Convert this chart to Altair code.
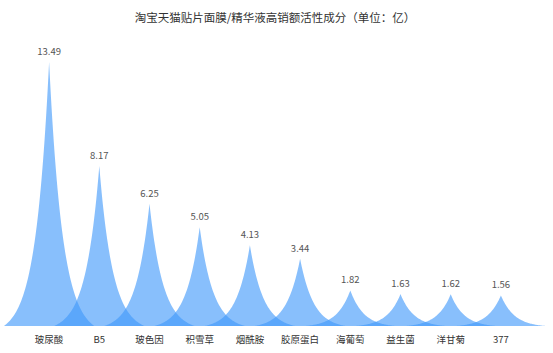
import altair as alt
import numpy as np
import pandas as pd

categories = ["玻尿酸", "B5", "玻色因", "积雪草", "烟酰胺", "胶原蛋白", "海葡萄", "益生菌", "洋甘菊", "377"]
values = [13.49, 8.17, 6.25, 5.05, 4.13, 3.44, 1.82, 1.63, 1.62, 1.56]
title_text = "淘宝天猫贴片面膜/精华液高销额活性成分（单位：亿）"

FONT = "Noto Sans CJK SC"

# spike-shaped symbol profile (relative to each value, half-width in category bands)
half_w = 0.9
s = 0.3
u = np.linspace(0, 1, 60)
prof = (np.exp(-u / s) - np.exp(-1 / s)) / (1 - np.exp(-1 / s))

rows = []
for i, (c, v) in enumerate(zip(categories, values)):
    for side in (-1, 1):
        for uu, p in zip(u, prof):
            rows.append({"cat": c, "px": float(i + side * uu * half_w), "py": float(v * p)})
shape_df = pd.DataFrame(rows).drop_duplicates(subset=["cat", "px"]).sort_values(["cat", "px"])

lab_df = pd.DataFrame({"cat": categories, "idx": list(range(len(categories))), "value": values,
                       "zero": [0] * len(categories)})

xs = alt.Scale(domain=[-0.5, len(categories) - 0.5], nice=False, zero=False)
ys = alt.Scale(domain=[0, max(values)], nice=False, zero=True)

area = alt.Chart(shape_df).mark_area(
    color="#3f98fa", opacity=0.62, interpolate="linear"
).encode(
    x=alt.X("px:Q", scale=xs, axis=None),
    y=alt.Y("py:Q", scale=ys, axis=None, stack=None),
    detail="cat:N",
)

val_text = alt.Chart(lab_df).mark_text(
    dy=-10, fontSize=9.5, color="#555555", font=FONT, baseline="middle"
).encode(
    x=alt.X("idx:Q", scale=xs),
    y=alt.Y("value:Q", scale=ys),
    text=alt.Text("value:Q", format=".2f"),
)

cat_text = alt.Chart(lab_df).mark_text(
    dy=14, fontSize=9.5, color="#333333", font=FONT, baseline="middle"
).encode(
    x=alt.X("idx:Q", scale=xs),
    y=alt.Y("zero:Q", scale=ys),
    text="cat:N",
)

chart = alt.layer(area, val_text, cat_text).properties(
    width=502,
    height=264,
    autosize=alt.AutoSizeParams(type="none"),
    padding={"left": 24, "top": 62, "right": 27, "bottom": 27},
    title=alt.TitleParams(
        text=title_text,
        font=FONT,
        fontSize=11.5,
        fontWeight="normal",
        color="#333333",
        anchor="middle",
        frame="group",
        offset=23,
    ),
).configure_view(stroke=None)

chart.save("out.html", embed_options={"renderer": "svg", "actions": False})
